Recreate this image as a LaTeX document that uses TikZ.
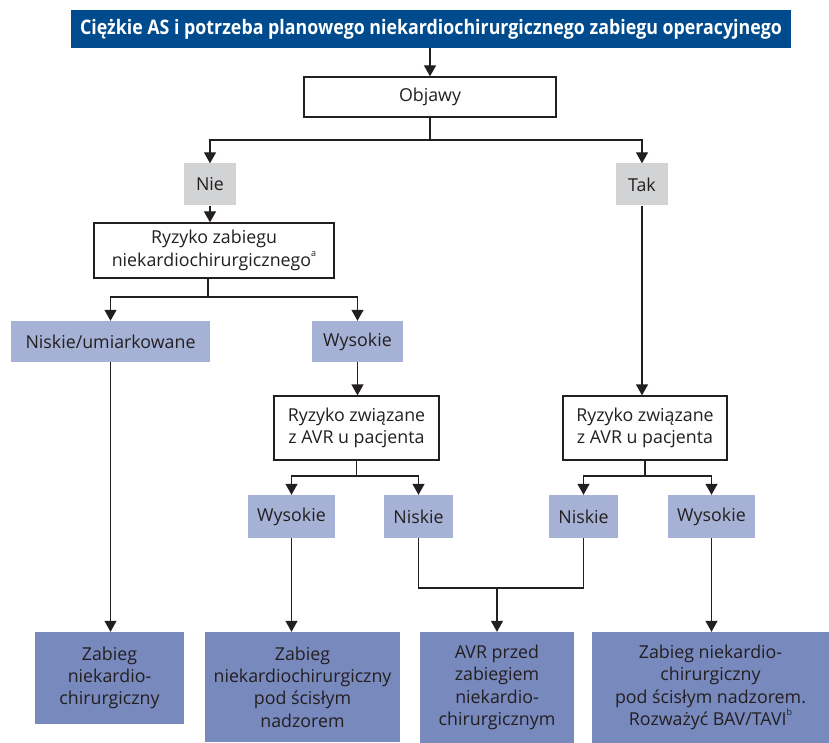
\documentclass[tikz,border=0pt]{standalone}
\usepackage{fontspec}
\usepackage{graphicx}
\setmainfont{Open Sans}
\usetikzlibrary{arrows.meta}
\definecolor{titleblue}{HTML}{004B8D}
\definecolor{greybox}{HTML}{D1D3D4}
\definecolor{lavbox}{HTML}{A6B2D5}
\definecolor{darkbox}{HTML}{7889BD}
\definecolor{txt}{HTML}{231F20}
\newcommand{\supr}[1]{\raisebox{0.55em}{\fontsize{9}{9}\selectfont #1}}
\begin{document}
\begin{tikzpicture}[x=1pt,y=-1pt,
  base/.style={text=txt, font=\fontsize{17.8}{22.3}\selectfont, align=center, inner sep=0pt},
  wbox/.style={base, draw=txt, line width=1.3pt, fill=white},
  gbox/.style={base, fill=greybox},
  lbox/.style={base, fill=lavbox},
  dbox/.style={base, fill=darkbox},
  conn/.style={draw=txt, line width=1.3pt},
  arr/.style={conn, -{Triangle[width=12pt,length=11pt]}}]
\useasboundingbox (0,0) rectangle (829,743);
% nodes
\node[fill=titleblue, inner sep=0pt, minimum width=720pt, minimum height=38pt, text=white,
  font=\fontsize{20}{24}\selectfont\bfseries] (title) at (431,29)
  {\resizebox{702pt}{\height}{Ciężkie AS i potrzeba planowego niekardiochirurgicznego zabiegu operacyjnego}};
\node[wbox, minimum width=252pt, minimum height=40pt] (objawy) at (430,97) {Objawy};
\node[gbox, minimum width=52pt, minimum height=42pt] (nie) at (210,184.5) {Nie};
\node[gbox, minimum width=52pt, minimum height=42pt] (tak) at (642,184.5) {Tak};
\node[wbox, minimum width=240pt, minimum height=55pt] (ryz1) at (214,250.5) {Ryzyko zabiegu\\niekardiochirurgicznego\supr{a}};
\node[lbox, minimum width=199pt, minimum height=41pt] (nu) at (110.5,341.5) {Niskie/umiarkowane};
\node[lbox, minimum width=91pt, minimum height=41pt] (wys1) at (357.5,341.5) {Wysokie};
\node[wbox, minimum width=165pt, minimum height=64pt] (ryzL) at (356.5,428) {Ryzyko związane\\z AVR u pacjenta};
\node[wbox, minimum width=164pt, minimum height=64pt] (ryzR) at (645,428) {Ryzyko związane\\z AVR u pacjenta};
\node[lbox, minimum width=87pt, minimum height=43pt] (wysL) at (291.5,516.5) {Wysokie};
\node[lbox, minimum width=69pt, minimum height=43pt] (nisL) at (418.5,516.5) {Niskie};
\node[lbox, minimum width=69pt, minimum height=43pt] (nisR) at (583.5,516.5) {Niskie};
\node[lbox, minimum width=87pt, minimum height=43pt] (wysR) at (711.5,516.5) {Wysokie};
\node[dbox, minimum width=149pt, minimum height=92pt] (b1) at (109.5,678) {Zabieg\\niekardio-\\chirurgiczny};
\node[dbox, minimum width=195pt, minimum height=110pt] (b2) at (302.5,687) {Zabieg\\niekardiochirurgiczny\\pod ścisłym\\nadzorem};
\node[dbox, minimum width=154pt, minimum height=111pt] (b3) at (497,687.5) {AVR przed\\zabiegiem\\niekardio-\\chirurgicznym};
\node[dbox, minimum width=237pt, minimum height=111pt] (b4) at (710.5,687.5) {Zabieg niekardio-\\chirurgiczny\\pod ścisłym nadzorem.\\Rozważyć BAV/TAVI\supr{b}};
% junctions
\coordinate (j1) at (430,140);
\coordinate (j2) at (208,297);
\coordinate (j3) at (356.5,476);
\coordinate (j4) at (645,476);
\coordinate (j5) at (497,588);
% connectors
\draw[arr] (objawy.north |- title.south) -- (objawy.north);
\draw[conn] (objawy.south) -- (j1);
\draw[arr] (j1) -| (nie.north);
\draw[arr] (j1) -| (tak.north);
\draw[arr] (nie.south) -- (nie.south |- ryz1.north);
\draw[conn] (j2 |- ryz1.south) -- (j2);
\draw[arr] (j2) -| (nu.north);
\draw[arr] (j2) -| (wys1.north);
\draw[arr] (nu.south) -- (nu.south |- b1.north);
\draw[arr] (wys1.south) -- (wys1.south |- ryzL.north);
\draw[arr] (tak.south) -- (tak.south |- ryzR.north);
\draw[conn] (ryzL.south) -- (j3);
\draw[arr] (j3) -| (wysL.north);
\draw[arr] (j3) -| (nisL.north);
\draw[conn] (ryzR.south) -- (j4);
\draw[arr] (j4) -| (nisR.north);
\draw[arr] (j4) -| (wysR.north);
\draw[arr] (wysL.south) -- (wysL.south |- b2.north);
\draw[conn] (nisL.south) |- (j5);
\draw[conn] (nisR.south) |- (j5);
\draw[arr] (j5) -- (j5 |- b3.north);
\draw[arr] (wysR.south) -- (wysR.south |- b4.north);
\end{tikzpicture}
\end{document}
